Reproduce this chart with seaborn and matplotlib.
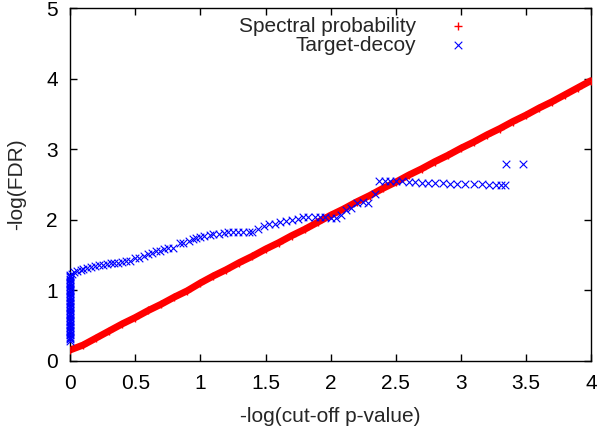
import numpy as np
import pandas as pd
import seaborn as sns
import matplotlib.pyplot as plt

# red curve: spectral probability
spec_x = [0.0, 0.1, 0.2, 0.3, 0.4, 0.5, 0.6, 0.7, 0.8, 0.9,
          1.0, 1.1, 1.2, 1.3, 1.4, 1.5, 1.6, 1.7, 1.8, 1.9,
          2.0, 2.1, 2.2, 2.3, 2.4, 2.5, 2.6, 2.7, 2.8, 2.9,
          3.0, 3.1, 3.2, 3.3, 3.4, 3.5, 3.6, 3.7, 3.8, 3.9, 4.0]
spec_y = [0.15, 0.22, 0.32, 0.42, 0.52, 0.61, 0.71, 0.80, 0.90, 0.99,
          1.10, 1.20, 1.29, 1.39, 1.48, 1.58, 1.67, 1.77, 1.86, 1.96,
          2.06, 2.15, 2.25, 2.34, 2.44, 2.53, 2.63, 2.72, 2.82, 2.91,
          3.01, 3.10, 3.20, 3.29, 3.39, 3.48, 3.58, 3.67, 3.77, 3.87, 3.97]

# blue points: target-decoy (a dense column at x = 0, then the rising part)
td_col_y = [0.28, 0.30, 0.32, 0.34, 0.36, 0.38, 0.40, 0.42, 0.44, 0.46,
            0.48, 0.50, 0.52, 0.54, 0.56, 0.58, 0.60, 0.62, 0.64, 0.66,
            0.68, 0.70, 0.72, 0.74, 0.76, 0.78, 0.80, 0.82, 0.84, 0.86,
            0.88, 0.90, 0.92, 0.94, 0.96, 0.98, 1.00, 1.02, 1.04, 1.06,
            1.08, 1.10, 1.12, 1.14, 1.16, 1.18, 1.20, 1.22]
td_x = [0.01, 0.03, 0.05, 0.08, 0.10, 0.13, 0.16, 0.19, 0.22, 0.25,
        0.28, 0.31, 0.34, 0.37, 0.40, 0.43, 0.46, 0.50, 0.53, 0.57,
        0.60, 0.63, 0.66, 0.69, 0.72, 0.75, 0.79, 0.84, 0.87, 0.91,
        0.94, 0.97, 1.00, 1.03, 1.07, 1.10, 1.14, 1.18, 1.21, 1.25,
        1.29, 1.33, 1.37, 1.40, 1.44, 1.49, 1.53, 1.57, 1.61, 1.66,
        1.70, 1.75, 1.79, 1.83, 1.88, 1.92, 1.96, 2.00, 2.04, 2.08,
        2.12, 2.16, 2.20, 2.25, 2.29, 2.34, 2.37, 2.42, 2.46, 2.50,
        2.55, 2.60, 2.65, 2.70, 2.75, 2.80, 2.86, 2.92, 2.97, 3.03,
        3.10, 3.16, 3.22, 3.27, 3.31, 3.34, 3.35, 3.48]
td_y = [1.23, 1.25, 1.27, 1.29, 1.30, 1.31, 1.33, 1.34, 1.35, 1.36,
        1.37, 1.38, 1.39, 1.39, 1.40, 1.41, 1.41, 1.45, 1.46, 1.48,
        1.51, 1.53, 1.55, 1.56, 1.58, 1.59, 1.60, 1.67, 1.67, 1.69,
        1.72, 1.74, 1.75, 1.77, 1.78, 1.79, 1.80, 1.81, 1.82, 1.82,
        1.83, 1.82, 1.82, 1.82, 1.87, 1.91, 1.93, 1.93, 1.96, 1.98,
        1.99, 2.01, 2.03, 2.04, 2.04, 2.04, 2.03, 2.02, 2.02, 2.07,
        2.14, 2.16, 2.23, 2.25, 2.24, 2.36, 2.54, 2.54, 2.54, 2.54,
        2.54, 2.53, 2.53, 2.52, 2.52, 2.52, 2.52, 2.51, 2.51, 2.51,
        2.50, 2.50, 2.49, 2.49, 2.49, 2.49, 2.79, 2.79]

spec = pd.DataFrame({"x": spec_x, "y": spec_y})
td = pd.DataFrame({"x": [0.0] * len(td_col_y) + td_x,
                   "y": td_col_y + td_y})

sns.set_style("ticks")
plt.rcParams["font.family"] = ["Liberation Sans", "DejaVu Sans"]

fig = plt.figure(figsize=(6, 4.26), dpi=100)
ax = fig.add_axes([0.117, 0.1537, 0.868, 0.8275])

sns.lineplot(data=spec, x="x", y="y", color="#ff0000", lw=5, ax=ax, legend=False)
sns.scatterplot(data=spec, x="x", y="y", marker="+", color="#ff0000", s=30,
                linewidth=1, ax=ax, label="Spectral probability", zorder=3)
sns.scatterplot(data=td, x="x", y="y", marker="x", color="#0000ff", s=30,
                linewidth=0.8, ax=ax, label="Target-decoy", zorder=4,
                clip_on=False)

ax.set_xlim(0, 4)
ax.set_ylim(0, 5)
ax.set_xticks([0, 0.5, 1, 1.5, 2, 2.5, 3, 3.5, 4])
ax.set_xticklabels(["0", "0.5", "1", "1.5", "2", "2.5", "3", "3.5", "4"])
ax.set_yticks([0, 1, 2, 3, 4, 5])
ax.tick_params(direction="in", length=5, width=1, top=True, right=True,
               labelsize=15, colors="black")
ax.tick_params(axis="x", pad=10)
ax.tick_params(axis="y", pad=9)
for s in ax.spines.values():
    s.set_linewidth(1)
    s.set_color("black")

ax.set_xlabel("-log(cut-off p-value)", fontsize=15, labelpad=10)
ax.set_ylabel("-log(FDR)", fontsize=15, labelpad=14)

ax.legend(loc="upper right", bbox_to_anchor=(0.765, 0.975), frameon=False,
          markerfirst=False, fontsize=15, handlelength=1.0, handletextpad=1.5,
          labelspacing=0.0, borderpad=0, borderaxespad=0)

fig.savefig("out.png", dpi=100)
